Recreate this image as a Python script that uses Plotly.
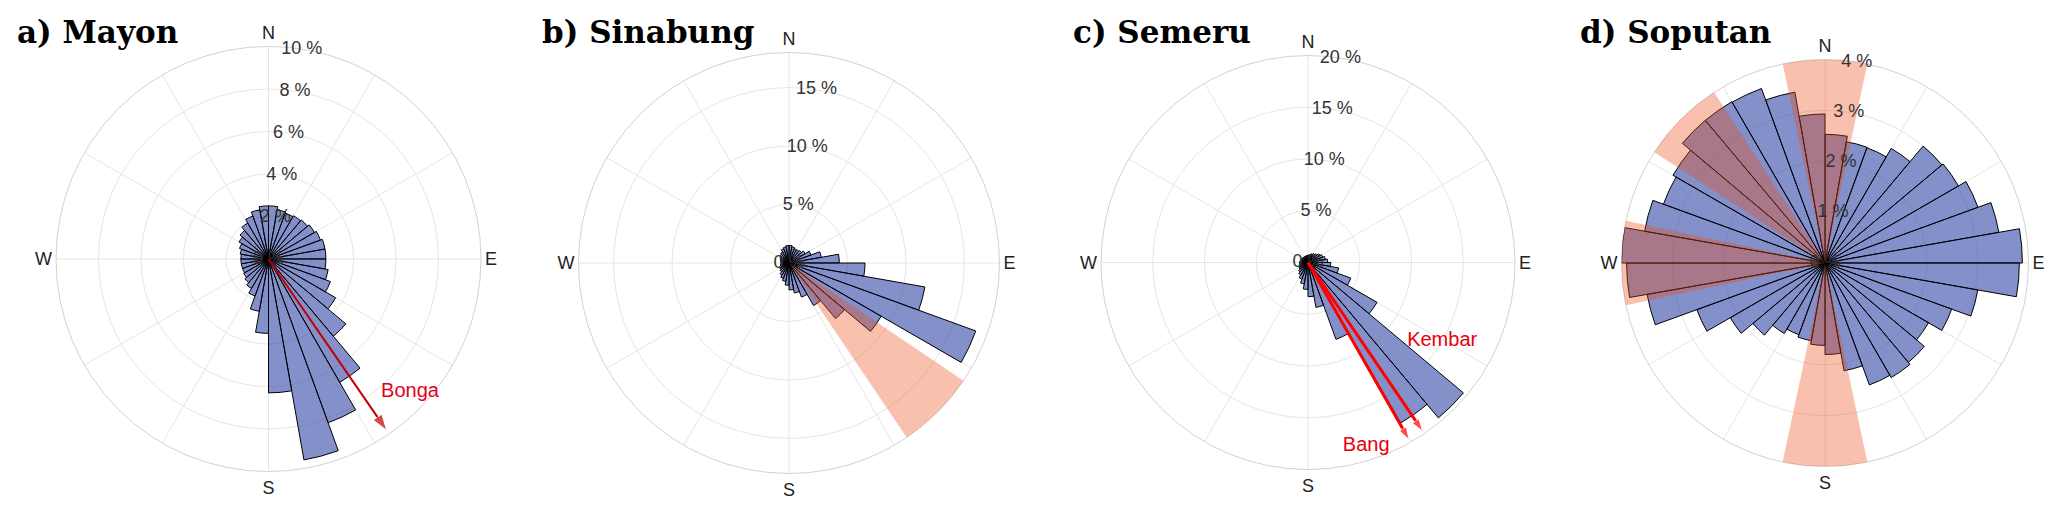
import plotly.graph_objects as go

# ---- data -----------------------------------------------------------------
# 36 direction bins of 10 degrees (edges at 0, 10, ... 350), values in %
BIN_CENTERS = list(range(5, 360, 10))

MAYON = [2.5, 2.35, 2.3, 2.35, 2.4, 2.5, 2.6, 2.7, 2.7, 2.7, 2.85, 3.1,
         3.65, 4.75, 6.7, 8.2, 9.6, 6.3, 3.5, 2.5, 1.85, 1.6, 1.45, 1.35,
         1.3, 1.3, 1.3, 1.3, 1.35, 1.45, 1.6, 1.75, 1.95, 2.15, 2.35, 2.5]

SINABUNG = [1.5, 1.4, 1.3, 1.3, 1.4, 1.6, 2.0, 2.8, 4.3, 6.5, 11.8, 17.0,
            9.1, 6.2, 4.2, 3.1, 2.6, 2.3, 1.9, 1.6, 1.4, 1.2, 1.0, 0.9,
            0.8, 0.75, 0.7, 0.7, 0.75, 0.8, 0.9, 1.0, 1.1, 1.3, 1.4, 1.5]

SEMERU = [0.7, 0.8, 0.9, 1.0, 1.1, 1.3, 1.5, 1.7, 1.9, 2.2, 3.0, 4.4,
          7.7, 19.6, 17.9, 7.9, 4.4, 3.3, 2.6, 2.1, 1.7, 1.4, 1.2, 1.0,
          0.9, 0.85, 0.8, 0.8, 0.75, 0.7, 0.7, 0.65, 0.65, 0.65, 0.65, 0.7]

SOPUTAN = [2.53, 2.42, 2.41, 2.6, 3.0, 3.03, 3.2, 3.47, 3.88, 3.82, 3.05, 2.65,
           2.35, 2.55, 2.6, 2.55, 2.15, 1.8, 1.62, 1.55, 1.5, 1.6, 1.85, 2.15,
           2.68, 3.55, 3.9, 4.0, 3.6, 3.38, 3.45, 3.66, 3.66, 3.65, 3.41, 2.93]

# highlighted sectors (direction, angular width, radius in %)
SINABUNG_SECTOR_DIR = [135]
SINABUNG_SECTOR_WIDTH = [22]
SINABUNG_SECTOR_R = [18]

SOPUTAN_SECTOR_DIR = [0, 315, 270, 180]
SOPUTAN_SECTOR_WIDTH = [24, 24, 24, 24]
SOPUTAN_SECTOR_R = [4.05, 4.05, 4.05, 4.05]

# arrows (direction in degrees, length in %)
MAYON_ARROW_DIR = [145.4]
MAYON_ARROW_LEN = [9.8]
MAYON_ARROW_NAMES = ["Bonga"]

SEMERU_ARROW_DIR = [150.3, 145.8]
SEMERU_ARROW_LEN = [19.7, 19.7]
SEMERU_ARROW_NAMES = ["Bang", "Kembar"]

PANEL_TITLES = ["a) Mayon", "b) Sinabung", "c) Semeru", "d) Soputan"]
RADIAL_MAX = [10, 18, 20, 4]
RADIAL_TICKS = [[0, 2, 4, 6, 8, 10], [0, 5, 10, 15], [0, 5, 10, 15, 20], [0, 1, 2, 3, 4]]

COMPASS_TICKS = list(range(0, 360, 30))
COMPASS_TEXT = ["N", "", "", "E", "", "", "S", "", "", "W", "", ""]

# ---- styling / layout --------------------------------------------------------
W, H = 2067, 515
# panel centres and radii in pixels
PANELS = [(268.5, 259, 212.5), (789, 263, 210.5), (1308, 262.5, 207), (1825, 263, 203.5)]
TITLE_X = [15, 540, 1071, 1578]
TICK_LABEL_DIR = 9  # radial tick labels sit along a line slightly east of north

BAR_FILL = "rgba(50,70,165,0.6)"
SECTOR_FILL = "rgba(235,75,20,0.35)"
GRID = "#e6e6e6"
LABEL_FONT = dict(family="Liberation Sans", size=18, color="#333")

fig = go.Figure()

series = [MAYON, SINABUNG, SEMERU, SOPUTAN]
for i, vals in enumerate(series):
    sub = "polar" if i == 0 else f"polar{i + 1}"
    # radial tick labels as text along the reference direction
    fig.add_trace(go.Scatterpolar(
        r=RADIAL_TICKS[i], theta=[TICK_LABEL_DIR] * len(RADIAL_TICKS[i]),
        text=[f"{t} %" for t in RADIAL_TICKS[i]], mode="text",
        textposition="middle center", textfont=LABEL_FONT,
        subplot=sub, hoverinfo="skip",
    ))
    fig.add_trace(go.Barpolar(
        r=vals, theta=BIN_CENTERS, width=[10] * len(vals),
        marker=dict(color=BAR_FILL, line=dict(color="black", width=1)),
        subplot=sub, hoverinfo="skip",
    ))

# translucent highlighted sectors drawn over the bars
fig.add_trace(go.Barpolar(
    r=SINABUNG_SECTOR_R, theta=SINABUNG_SECTOR_DIR, width=SINABUNG_SECTOR_WIDTH,
    marker=dict(color=SECTOR_FILL, line=dict(width=0)), subplot="polar2",
    hoverinfo="skip",
))
fig.add_trace(go.Barpolar(
    r=SOPUTAN_SECTOR_R, theta=SOPUTAN_SECTOR_DIR, width=SOPUTAN_SECTOR_WIDTH,
    marker=dict(color=SECTOR_FILL, line=dict(width=0)), subplot="polar4",
    hoverinfo="skip",
))


def add_arrow(direction, length, color, width, size, sub):
    fig.add_trace(go.Scatterpolar(
        r=[0, length], theta=[direction, direction], mode="lines+markers",
        line=dict(color=color, width=width),
        marker=dict(symbol="arrow", size=[0, size], color=color, angleref="previous"),
        subplot=sub, hoverinfo="skip",
    ))


for d, l in zip(MAYON_ARROW_DIR, MAYON_ARROW_LEN):
    add_arrow(d, l, "#c00000", 2, 17, "polar")
for d, l in zip(SEMERU_ARROW_DIR, SEMERU_ARROW_LEN):
    add_arrow(d, l, "#ff0000", 3, 13, "polar3")

# arrow labels (placed in polar coordinates)
fig.add_trace(go.Scatterpolar(
    r=[9.15], theta=[133.3], text=MAYON_ARROW_NAMES, mode="text",
    textfont=dict(family="Liberation Sans", size=20, color="#e3001b"), subplot="polar",
    hoverinfo="skip",
))
fig.add_trace(go.Scatterpolar(
    r=[18.6, 15.0], theta=[162.4, 120.2], text=SEMERU_ARROW_NAMES, mode="text",
    textfont=dict(family="Liberation Sans", size=20, color="#e8000b"), subplot="polar3",
    hoverinfo="skip",
))

layout = dict(width=W, height=H, margin=dict(l=0, r=0, t=0, b=0),
              paper_bgcolor="white", showlegend=False)

for i, (cx, cy, rad) in enumerate(PANELS):
    key = "polar" if i == 0 else f"polar{i + 1}"
    layout[key] = dict(
        domain=dict(x=[(cx - rad) / W, (cx + rad) / W],
                    y=[1 - (cy + rad) / H, 1 - (cy - rad) / H]),
        bgcolor="white",
        barmode="overlay",
        radialaxis=dict(
            range=[0, RADIAL_MAX[i]], tickmode="array", tickvals=RADIAL_TICKS[i],
            showticklabels=False, showline=False, ticks="", gridcolor=GRID,
            layer="below traces",
        ),
        angularaxis=dict(
            rotation=90, direction="clockwise", tickmode="array",
            tickvals=COMPASS_TICKS, ticktext=COMPASS_TEXT, ticks="",
            showline=True, linecolor="#d2d2d2", linewidth=1, gridcolor=GRID,
            tickfont=dict(family="Liberation Sans", size=18, color="#222"),
            layer="below traces",
        ),
    )

fig.update_layout(**layout)

for i, title in enumerate(PANEL_TITLES):
    fig.add_annotation(
        text=f"<b>{title}</b>", x=TITLE_X[i] / W, y=1 - 32 / H,
        xref="paper", yref="paper", xanchor="left", yanchor="middle",
        showarrow=False, font=dict(family="DejaVu Serif", size=31, color="black"),
    )

# drop the browser's default body margin so the figure sits at the page origin
fig.write_html("out.html", config={"displayModeBar": False},
               post_script="document.body.style.margin='0';")
